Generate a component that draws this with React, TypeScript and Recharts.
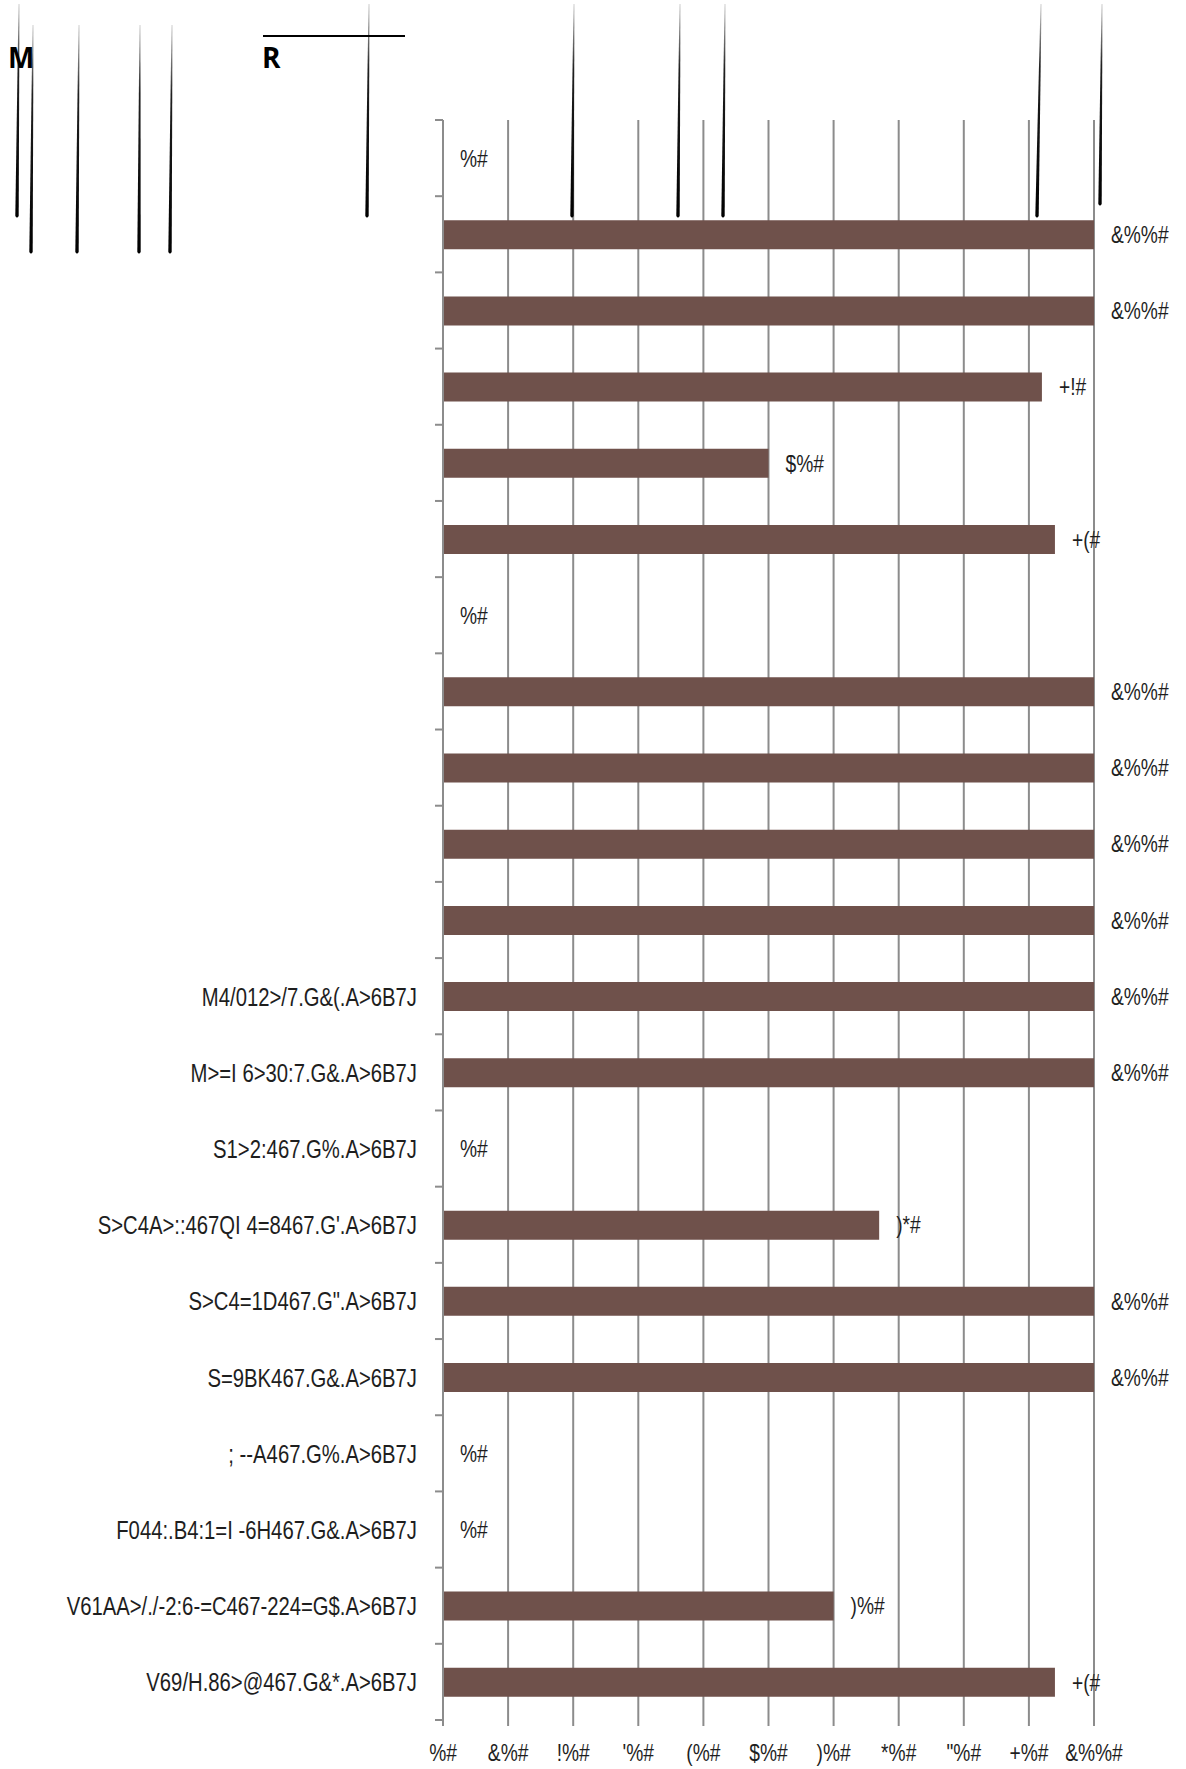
import React from 'react';
import { ComposedChart, Bar, Line, XAxis, YAxis, CartesianGrid, LabelList } from 'recharts';

// ---- data ----
const rowIds = [
  'r01', 'r02', 'r03', 'r04', 'r05', 'r06', 'r07', 'r08', 'r09', 'r10', 'r11',
  'r12', 'r13', 'r14', 'r15', 'r16', 'r17', 'r18', 'r19', 'r20', 'r21',
];
const rowLabels = [
  '', '', '', '', '', '', '', '', '', '', '',
  'M4/012>/7.G&(.A>6B7J',
  'M>=I 6>30:7.G&.A>6B7J',
  'S1>2:467.G%.A>6B7J',
  "S>C4A>::467QI 4=8467.G'.A>6B7J",
  'S>C4=1D467.G".A>6B7J',
  'S=9BK467.G&.A>6B7J',
  '; --A467.G%.A>6B7J',
  'F044:.B4:1=I -6H467.G&.A>6B7J',
  'V61AA>/./-2:6-=C467-224=G$.A>6B7J',
  'V69/H.86>@467.G&*.A>6B7J',
];
const rowValues = [0, 100, 100, 92, 50, 94, 0, 100, 100, 100, 100, 100, 100, 0, 67, 100, 100, 0, 0, 60, 94];
const xTicks = [0, 10, 20, 30, 40, 50, 60, 70, 80, 90, 100];
// the chart's font maps digits and % to these glyphs
const glyphDigits = ['%', '&', '!', "'", '(', '$', ')', '*', '"', '+'];
const glyphPercent = '#';
const headingLetters = ['M', 'R'];

const toGlyph = (v: number) =>
  String(v).split('').map((d) => glyphDigits[Number(d)]).join('') + glyphPercent;

const data = rowIds.map((id, i) => ({ id, label: rowLabels[i], value: rowValues[i] }));

// ---- layout ----
const W = 1186;
const H = 1769;
const PLOT_LEFT = 443;
const PLOT_RIGHT = 1094;
const PLOT_TOP = 120;
const PLOT_BOTTOM = 1720;
const FONT = "'Liberation Sans', Arial, sans-serif";
const GRID = '#8c8c8c';
const BAR = '#6f514b';
const TEXT = '#1e1e1e';
const Y_TICK_SIZE = 8;
const Y_TICK_MARGIN = 18;

const NarrowText = ({ x, y, anchor, size, sx, dy, children }: any) => (
  <text
    transform={`translate(${x} ${y}) scale(${sx} 1)`}
    x={0}
    y={0}
    dy={dy}
    textAnchor={anchor}
    fontFamily={FONT}
    fontSize={size}
    fill={TEXT}
  >
    {children}
  </text>
);

const YTick = (props: any) => {
  const { y, index, payload } = props;
  const idx = payload?.index ?? index;
  const half = (PLOT_BOTTOM - PLOT_TOP) / rowIds.length / 2;
  const axisX = PLOT_LEFT;
  const label = rowLabels[idx] ?? '';
  const isLast = idx === rowIds.length - 1;
  return (
    <g>
      <line x1={axisX - Y_TICK_SIZE} x2={axisX} y1={y - half} y2={y - half} stroke={GRID} strokeWidth={2} />
      {isLast && (
        <line x1={axisX - Y_TICK_SIZE} x2={axisX} y1={y + half} y2={y + half} stroke={GRID} strokeWidth={2} />
      )}
      <NarrowText x={axisX - Y_TICK_SIZE - Y_TICK_MARGIN} y={y} dy="0.36em" anchor="end" size={26} sx={0.78}>
        {label}
      </NarrowText>
    </g>
  );
};

const XTick = (props: any) => {
  const { x, y, payload } = props;
  return (
    <NarrowText x={x} y={y} dy="0.71em" anchor="middle" size={24} sx={0.8}>
      {toGlyph(payload.value)}
    </NarrowText>
  );
};

const ValueLabel = (props: any) => {
  const { x, y, value } = props;
  return (
    <NarrowText x={x + 17} y={y} dy="0.36em" anchor="start" size={24} sx={0.8}>
      {toGlyph(Number(value))}
    </NarrowText>
  );
};

// tapered stroke decorations above the chart
const strokes = [
  { xt: 19, xb: 17, yt: 4, yb: 218 },
  { xt: 33, xb: 31, yt: 25, yb: 254 },
  { xt: 79, xb: 77, yt: 25, yb: 254 },
  { xt: 140, xb: 139, yt: 25, yb: 254 },
  { xt: 172, xb: 170, yt: 25, yb: 254 },
  { xt: 369, xb: 367, yt: 4, yb: 218 },
  { xt: 574, xb: 572, yt: 4, yb: 218 },
  { xt: 680, xb: 678, yt: 4, yb: 218 },
  { xt: 725, xb: 723, yt: 4, yb: 218 },
  { xt: 1041, xb: 1037, yt: 4, yb: 218 },
  { xt: 1102, xb: 1100, yt: 4, yb: 206 },
];

const Decorations = () => (
  <svg width={W} height={H} style={{ position: 'absolute', left: 0, top: 0, pointerEvents: 'none' }}>
    <defs>
      <linearGradient id="taper" x1="0" y1="0" x2="0" y2="1">
        <stop offset="0" stopColor="#d0d0d0" />
        <stop offset="0.3" stopColor="#202020" />
        <stop offset="1" stopColor="#000" />
      </linearGradient>
    </defs>
    {strokes.map((s, i) => (
      <path
        key={i}
        d={`M ${s.xt - 0.5} ${s.yt} L ${s.xt + 0.5} ${s.yt} L ${s.xb + 1.7} ${s.yb - 2} Q ${s.xb} ${s.yb + 1} ${s.xb - 1.7} ${s.yb - 2} Z`}
        fill="url(#taper)"
      />
    ))}
    <line x1={263} x2={405} y1={36} y2={36} stroke="#000" strokeWidth={2} />
    <text x={8} y={68} fontFamily="'Open Sans', 'DejaVu Sans', sans-serif" fontWeight={700} fontSize={28} fill="#000">
      {headingLetters[0]}
    </text>
    <text x={262} y={68} fontFamily="'Open Sans', 'DejaVu Sans', sans-serif" fontWeight={700} fontSize={28} fill="#000">
      {headingLetters[1]}
    </text>
  </svg>
);

export default function App() {
  return (
    <div style={{ position: 'absolute', left: 0, top: 0, width: W, height: H, background: '#fff' }}>
      <ComposedChart
        width={W}
        height={H}
        data={data}
        layout="vertical"
        margin={{ top: PLOT_TOP, right: W - PLOT_RIGHT, bottom: 0, left: 0 }}
      >
        <CartesianGrid horizontal={false} vertical stroke={GRID} strokeWidth={2} />
        <XAxis
          type="number"
          domain={[0, 100]}
          ticks={xTicks}
          interval={0}
          height={H - PLOT_BOTTOM}
          axisLine={false}
          tickLine={{ stroke: GRID, strokeWidth: 2 }}
          tickSize={6}
          tickMargin={18}
          tick={<XTick />}
        />
        <YAxis
          type="category"
          dataKey="id"
          width={PLOT_LEFT}
          interval={0}
          axisLine={{ stroke: GRID, strokeWidth: 2 }}
          tickLine={false}
          tick={<YTick />}
        />
        <Bar dataKey="value" fill={BAR} barSize={29} isAnimationActive={false} />
        <Line
          dataKey="value"
          stroke="none"
          dot={false}
          activeDot={false}
          legendType="none"
          isAnimationActive={false}
        >
          <LabelList dataKey="value" content={<ValueLabel />} />
        </Line>
      </ComposedChart>
      <Decorations />
    </div>
  );
}
